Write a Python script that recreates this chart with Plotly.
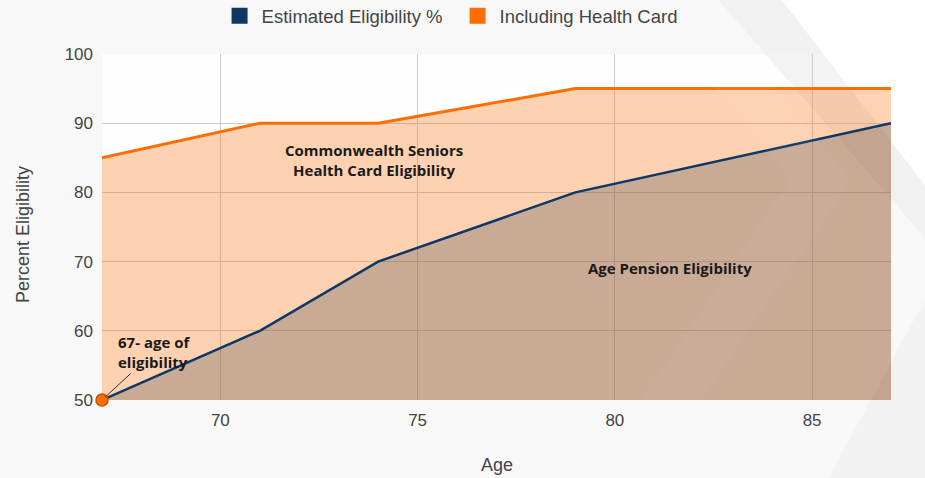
import plotly.graph_objects as go

ages = [67, 71, 74, 79, 87]
estimated = [50, 60, 70, 80, 90]
health_card = [85, 90, 90, 95, 95]
x_ticks = [70, 75, 80, 85]
y_ticks = [50, 60, 70, 80, 90, 100]

ORANGE = "#ff6d01"
NAVY = "#0b3866"

fig = go.Figure()

# faint decorative background chevrons; paper coords, y=0 at plot bottom
chev_below = [
    ("M 0.86 1.16 L 1.05 1.16 L 1.05 0.60 Z", "rgba(255,255,255,0.95)"),
    ("M 0.78 1.16 L 0.86 1.16 L 1.05 0.60 L 1.05 0.45 Z", "rgba(238,238,238,0.7)"),
    ("M 0.92 -0.23 L 1.05 -0.23 L 1.05 0.32 Z", "rgba(240,240,240,0.8)"),
]
chev_above = [
    ("M 0.683 1.16 L 0.759 1.16 L 0.949 0.636 L 0.759 0.0 L 0.683 0.0 L 0.873 0.636 Z",
     "rgba(255,255,255,0.04)"),
]
shapes = [dict(type="path", xref="paper", yref="paper", path=p, fillcolor=c,
               line=dict(width=0), layer="below") for p, c in chev_below]
shapes += [dict(type="path", xref="paper", yref="paper", path=p, fillcolor=c,
                line=dict(width=0), layer="above") for p, c in chev_above]

fig.add_trace(go.Scatter(
    x=ages, y=health_card, mode="lines", name="Including Health Card",
    line=dict(color=ORANGE, width=3), fill="tozeroy",
    fillcolor="rgba(255,109,1,0.30)", showlegend=False, hoverinfo="skip"))
fig.add_trace(go.Scatter(
    x=ages, y=estimated, mode="lines", name="Estimated Eligibility %",
    line=dict(color=NAVY, width=2.5), fill="tozeroy",
    fillcolor="rgba(60,70,80,0.28)", showlegend=False, hoverinfo="skip"))
fig.add_trace(go.Scatter(
    x=[ages[0]], y=[estimated[0]], mode="markers", showlegend=False, cliponaxis=False,
    hoverinfo="skip",
    marker=dict(color=ORANGE, size=12, line=dict(color="#c85400", width=1.5))))

# legend entries
fig.add_trace(go.Scatter(x=[None], y=[None], mode="markers", name="Estimated Eligibility %",
                         marker=dict(symbol="square", size=18, color=NAVY)))
fig.add_trace(go.Scatter(x=[None], y=[None], mode="markers", name="Including Health Card",
                         marker=dict(symbol="square", size=18, color=ORANGE)))

ann_font = dict(family="Open Sans, Noto Sans, sans-serif", size=15, color="#1a1a1a")
title_font = dict(family="Liberation Sans, Arial, sans-serif", size=18, color="#444")
annotations = [
    dict(x=ages[0], y=estimated[0], xref="x", yref="y", text="<b>67- age of<br>eligibility</b>",
         showarrow=True, arrowhead=0, arrowwidth=1, arrowcolor="#333", ax=52, ay=-48,
         align="left", font=ann_font, standoff=4),
    dict(x=73.9, y=84.7, xref="x", yref="y", text="<b>Commonwealth Seniors<br>Health Card Eligibility</b>",
         showarrow=False, align="center", font=ann_font),
    dict(x=81.4, y=69.1, xref="x", yref="y", text="<b>Age Pension Eligibility</b>",
         showarrow=False, font=ann_font),
    dict(x=0.501, y=-0.188, xref="paper", yref="paper", text="Age", showarrow=False,
         font=title_font, xanchor="center", yanchor="middle"),
    dict(x=-0.100, y=0.477, xref="paper", yref="paper", text="Percent Eligibility",
         showarrow=False, textangle=-90, font=title_font, xanchor="center", yanchor="middle"),
]

tick_font = dict(family="Liberation Sans, Arial, sans-serif", size=17, color="#444")
fig.update_layout(
    width=925, height=478,
    margin=dict(l=102, r=34, t=54, b=78),
    paper_bgcolor="#f8f8f8",
    plot_bgcolor="rgba(255,255,255,0.8)",
    font=tick_font,
    shapes=shapes,
    annotations=annotations,
    showlegend=True,
    legend=dict(orientation="h", x=0.4925, xanchor="center", xref="container",
                y=0.966, yanchor="middle", yref="container",
                font=dict(family="Liberation Sans, Arial, sans-serif", size=18.5, color="#444"),
                bgcolor="rgba(0,0,0,0)", entrywidth=189, entrywidthmode="pixels",
                itemwidth=34),
    xaxis=dict(range=[67, 87], tickvals=x_ticks, showgrid=True, gridcolor="#cccccc",
               zeroline=False, showline=False, ticks="", tickfont=tick_font,
               ticklabelstandoff=8, automargin=False),
    yaxis=dict(range=[50, 100], tickvals=y_ticks, showgrid=True, gridcolor="#cccccc",
               zeroline=False, showline=False, ticks="", tickfont=tick_font,
               ticklabelstandoff=8, automargin=False),
)

fig.write_html("out.html", config={"displayModeBar": False},
               post_script="document.body.style.margin='0';")
